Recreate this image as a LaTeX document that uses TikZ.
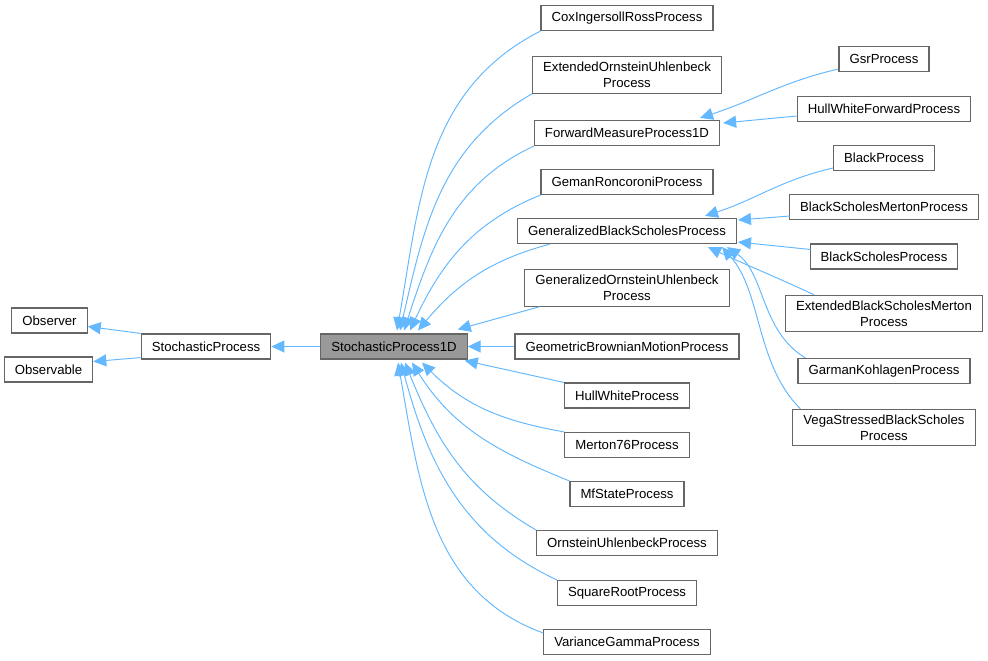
\documentclass[tikz,border=0pt]{standalone}
\usepackage{fontspec}
\setmainfont{Liberation Sans}
\usetikzlibrary{arrows.meta,calc}
\definecolor{linea}{HTML}{63B8FF}
\definecolor{borde}{HTML}{666666}
\definecolor{foco}{HTML}{999999}
\begin{document}
\begin{tikzpicture}[x=0.02cm,y=-0.02cm,
		caja/.style={draw=borde,line width=0.65pt,fill=white,minimum height=0.5cm,
			inner xsep=6pt,inner ysep=3pt,align=center,font=\fontsize{7.5}{9.2}\selectfont},
		hereda/.style={draw=linea,line width=0.55pt,-{Triangle[length=2.6mm,width=2.4mm]}}]
		
		\useasboundingbox (0,0) rectangle (988,660);
		
		% Columna izquierda
		\node[caja] (obsr) at (49.5,320.5) {Observer};
		\node[caja] (obsb) at (48.5,369.5) {Observable};
		\node[caja] (sp) at (206,346.5) {StochasticProcess};
		\node[caja,fill=foco] (sp1d) at (394,346.5) {StochasticProcess1D};
		
		% Columna central
		\node[caja] (cir) at (627,18) {CoxIngersollRossProcess};
		\node[caja] (eou) at (627,75) {ExtendedOrnsteinUhlenbeck\\Process};
		\node[caja] (fmp) at (627,133) {ForwardMeasureProcess1D};
		\node[caja] (grp) at (627,182) {GemanRoncoroniProcess};
		\node[caja] (gbsp) at (627,231) {GeneralizedBlackScholesProcess};
		\node[caja] (gou) at (627,288) {GeneralizedOrnsteinUhlenbeck\\Process};
		\node[caja] (gbm) at (627,346.5) {GeometricBrownianMotionProcess};
		\node[caja] (hwp) at (627,395.5) {HullWhiteProcess};
		\node[caja] (m76) at (627,445) {Merton76Process};
		\node[caja] (mfs) at (627,494) {MfStateProcess};
		\node[caja] (oup) at (627,543) {OrnsteinUhlenbeckProcess};
		\node[caja] (srp) at (627,593) {SquareRootProcess};
		\node[caja] (vgp) at (627,642) {VarianceGammaProcess};
		
		% Columna derecha
		\node[caja] (gsr) at (884,59) {GsrProcess};
		\node[caja] (hwfp) at (884,109) {HullWhiteForwardProcess};
		\node[caja] (bp) at (884,158) {BlackProcess};
		\node[caja] (bsmp) at (884,207) {BlackScholesMertonProcess};
		\node[caja] (bsp) at (884,256.5) {BlackScholesProcess};
		\node[caja] (ebsm) at (884,313.5) {ExtendedBlackScholesMerton\\Process};
		\node[caja] (gkp) at (884,371) {GarmanKohlagenProcess};
		\node[caja] (vsbs) at (884,427.5) {VegaStressedBlackScholes\\Process};
		
		% Herencia a la izquierda
		\draw[hereda] (sp1d.west) -- (sp.east);
		\draw[hereda] (sp.north west) -- ($(obsr.east)+(0,6)$);
		\draw[hereda] ($(sp.south west)+(0,-2)$) -- ($(obsb.east)+(0,-8)$);
		
		% Hijos de arriba
		\draw[hereda] (cir.south west) to[out=207,in=80] ($(sp1d.north)+(3,-3)$);
		\draw[hereda] (eou.south west) to[out=210,in=77] ($(sp1d.north)+(6,-3)$);
		\draw[hereda] (fmp.south west) to[out=205,in=72] ($(sp1d.north)+(10,-3)$);
		\draw[hereda] (grp.south west) to[out=202,in=65] ($(sp1d.north)+(16,-3)$);
		\draw[hereda] ($(gbsp.south west)+(33,0)$) to[out=195,in=50] ($(sp1d.north)+(24,-3)$);
		\draw[hereda] ($(gou.south west)+(15,0)$) -- ($(sp1d.north east)+(-10,-4)$);
		\draw[hereda] (gbm.west) -- (sp1d.east);
		
		% Hijos de abajo
		\draw[hereda] (hwp.north west) -- ($(sp1d.south east)+(-3,1)$);
		\draw[hereda] (m76.north west) to[out=170,in=-45] ($(sp1d.south)+(28,3)$);
		\draw[hereda] (mfs.north west) to[out=158,in=-58] ($(sp1d.south)+(18,3)$);
		\draw[hereda] (oup.north west) to[out=150,in=-68] ($(sp1d.south)+(11,3)$);
		\draw[hereda] (srp.north west) to[out=155,in=-75] ($(sp1d.south)+(7,3)$);
		\draw[hereda] ($(vgp.north west)+(0,4)$) to[out=160,in=-80] ($(sp1d.south)+(4,3)$);
		
		% Segundo nivel
		\draw[hereda] ($(gsr.west)+(0,10)$) to[out=193,in=18] ($(fmp.north)+(73,-2)$);
		\draw[hereda] ($(hwfp.west)+(0,7)$) -- ($(fmp.east)+(3,-10)$);
		\draw[hereda] ($(bp.west)+(0,10)$) to[out=193,in=18] ($(gbsp.north)+(78,-2)$);
		\draw[hereda] ($(bsmp.west)+(1,9)$) -- ($(gbsp.east)+(1,-11)$);
		\draw[hereda] ($(bsp.west)+(1,-7)$) -- ($(gbsp.east)+(1,11)$);
		\draw[hereda] ($(ebsm.north west)+(29,0)$) to[out=155,in=-25] ($(gbsp.south)+(81,3)$);
		\draw[hereda] ($(gkp.north west)+(8,0)$) .. controls +(-45,-27) and +(38,26) .. ($(gbsp.south)+(100,3)$);
		\draw[hereda] ($(vsbs.north west)+(8,0)$) .. controls +(-45,-45) and +(40,45) .. ($(gbsp.south)+(95,3)$);
		
	\end{tikzpicture}
\end{document}
